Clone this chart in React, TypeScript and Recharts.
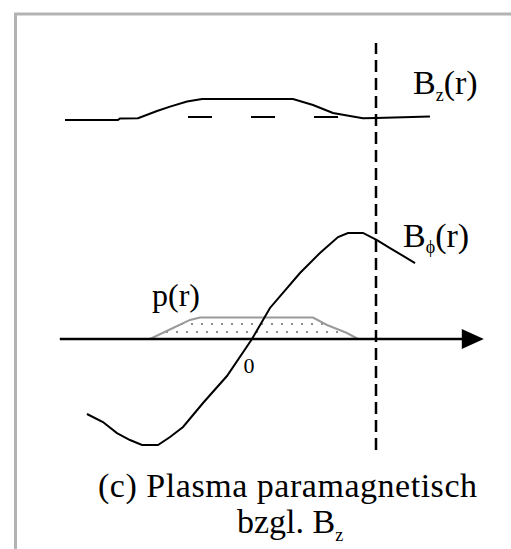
import React from "react";
import {
  ComposedChart,
  Line,
  Area,
  XAxis,
  YAxis,
  ReferenceLine,
  Customized,
} from "recharts";

// Canvas and coordinate frame: radius r in units of the plasma radius a,
// field values in arbitrary units.
const W = 511;
const H = 549;
const ORIGIN_X = 252; // pixel of r = 0
const UNIT_X = 124; // pixels per unit of r
const AXIS_Y = 339; // pixel of B_phi = 0
const UNIT_Y = 107; // pixels per unit of B_phi
const BZ_BASE_Y = 120; // pixel of B_z = 1
const UNIT_BZ = 200; // pixels per unit of B_z

const X_DOMAIN: [number, number] = [-ORIGIN_X / UNIT_X, (W - ORIGIN_X) / UNIT_X];
const Y_DOMAIN: [number, number] = [-(H - AXIS_Y) / UNIT_Y, AXIS_Y / UNIT_Y];
const BZ_DOMAIN: [number, number] = [1 - (H - BZ_BASE_Y) / UNIT_BZ, 1 + BZ_BASE_Y / UNIT_BZ];

// Axial field B_z(r): slightly raised inside the plasma (paramagnetic)
const bzR = [-1.508, -1.081, -1.065, -0.919, -0.766, -0.661, -0.524, -0.403, 0.331, 0.492, 0.653, 0.79, 0.895, 1.0, 1.435];
const bzV = [1.0, 1.0, 1.008, 1.009, 1.045, 1.067, 1.092, 1.105, 1.105, 1.075, 1.035, 1.02, 1.009, 1.01, 1.017];

// Vacuum reference level of B_z (dashed)
const bzRefR = [-0.516, 0.71];
const bzRefV = [1.015, 1.015];

// Azimuthal field B_phi(r)
const bphiR = [-1.331, -1.202, -1.089, -0.984, -0.887, -0.758, -0.661, -0.556, -0.395, -0.202, 0, 0.145, 0.387, 0.548, 0.694, 0.774, 0.895, 1.008, 1.113, 1.315];
const bphiV = [-0.701, -0.776, -0.879, -0.944, -0.991, -0.991, -0.916, -0.822, -0.598, -0.346, 0, 0.29, 0.617, 0.804, 0.953, 0.991, 0.991, 0.925, 0.85, 0.71];

// Plasma pressure p(r)
const pR = [-0.823, -0.637, -0.5, -0.419, 0.492, 0.605, 0.766, 0.855];
const pV = [0, 0.103, 0.178, 0.2, 0.2, 0.131, 0.056, 0];

// r axis extent and plasma boundary r = a
const axisR = [-1.55, 1.7];
const axisV = [0, 0];
const WALL_R = 1;
const wallSpan = [-1.037, 2.766];

const zip = (rs: number[], vs: number[]) => rs.map((r, i) => ({ r, v: vs[i] }));

const bzData = zip(bzR, bzV);
const bzRefData = zip(bzRefR, bzRefV);
const bphiData = zip(bphiR, bphiV);
const pData = zip(pR, pV);
const axisData = zip(axisR, axisV);

const SERIF = '"Liberation Serif", "DejaVu Serif", serif';
const txt = (size: number): React.CSSProperties => ({ fontFamily: SERIF, fontSize: size });

const ArrowDot = (props: any) => {
  const { cx, cy, index } = props;
  if (index !== axisData.length - 1) return <g key={`ad-${index}`} />;
  return (
    <polygon
      key={`ad-${index}`}
      points={`${cx - 1},${cy - 10} ${cx + 21},${cy} ${cx - 1},${cy + 10}`}
      fill="#000"
      stroke="none"
    />
  );
};

const Annotations = () => (
  <g fill="#000">
    {/* frame */}
    <path d={`M15.5,${H} L15.5,14 L${W},14`} fill="none" stroke="#b3b3b3" strokeWidth={3} />
    <text x={413} y={94} style={txt(34)}>
      B<tspan style={txt(18)} dy={7}>z</tspan>
      <tspan dy={-7}>(r)</tspan>
    </text>
    <text x={403} y={247} style={txt(34)}>
      B<tspan style={txt(18)} dy={6}>ϕ</tspan>
      <tspan dy={-6}>(r)</tspan>
    </text>
    <text x={152} y={306} style={txt(32)}>p(r)</text>
    <text x={249} y={373} style={txt(22)} textAnchor="middle">0</text>
    <text x={98} y={497} style={txt(34)} textLength={379} lengthAdjust="spacing">
      (c) Plasma paramagnetisch
    </text>
    <text x={237} y={533} style={txt(34)}>
      bzgl. B<tspan style={txt(18)} dy={8}>z</tspan>
    </text>
  </g>
);

export default function App() {
  return (
    <div style={{ position: "absolute", left: 0, top: 0, width: W, height: H, background: "#fff" }}>
      <svg width={0} height={0} style={{ position: "absolute" }}>
        <defs>
          <pattern id="pressureDots" patternUnits="userSpaceOnUse" width={10} height={16}>
            <rect x={1} y={3} width={2} height={2} fill="#8c8c8c" />
            <rect x={6} y={11} width={2} height={2} fill="#8c8c8c" />
          </pattern>
        </defs>
      </svg>
      <ComposedChart width={W} height={H} margin={{ top: 0, right: 0, bottom: 0, left: 0 }}>
        <XAxis dataKey="r" type="number" domain={X_DOMAIN} allowDataOverflow hide />
        <YAxis yAxisId="b" type="number" domain={Y_DOMAIN} allowDataOverflow hide />
        <YAxis yAxisId="z" type="number" domain={BZ_DOMAIN} allowDataOverflow hide />

        <Area
          yAxisId="b"
          data={pData}
          dataKey="v"
          type="linear"
          baseValue={0}
          stroke="#9a9a9a"
          strokeWidth={2}
          fill="url(#pressureDots)"
          fillOpacity={1}
          isAnimationActive={false}
        />

        <Line
          yAxisId="b"
          data={axisData}
          dataKey="v"
          type="linear"
          stroke="#000"
          strokeWidth={2.5}
          dot={ArrowDot}
          activeDot={false}
          isAnimationActive={false}
        />

        <ReferenceLine
          yAxisId="b"
          segment={[
            { x: WALL_R, y: wallSpan[0] },
            { x: WALL_R, y: wallSpan[1] },
          ]}
          stroke="#000"
          strokeWidth={2.5}
          strokeDasharray="12 6"
          ifOverflow="visible"
        />

        <Line
          yAxisId="z"
          data={bzRefData}
          dataKey="v"
          type="linear"
          stroke="#000"
          strokeWidth={2}
          strokeDasharray="24 39"
          dot={false}
          activeDot={false}
          isAnimationActive={false}
        />
        <Line
          yAxisId="z"
          data={bzData}
          dataKey="v"
          type="linear"
          stroke="#000"
          strokeWidth={2}
          dot={false}
          activeDot={false}
          isAnimationActive={false}
        />
        <Line
          yAxisId="b"
          data={bphiData}
          dataKey="v"
          type="linear"
          stroke="#000"
          strokeWidth={2}
          dot={false}
          activeDot={false}
          isAnimationActive={false}
        />

        <Customized component={Annotations} />
      </ComposedChart>
    </div>
  );
}
